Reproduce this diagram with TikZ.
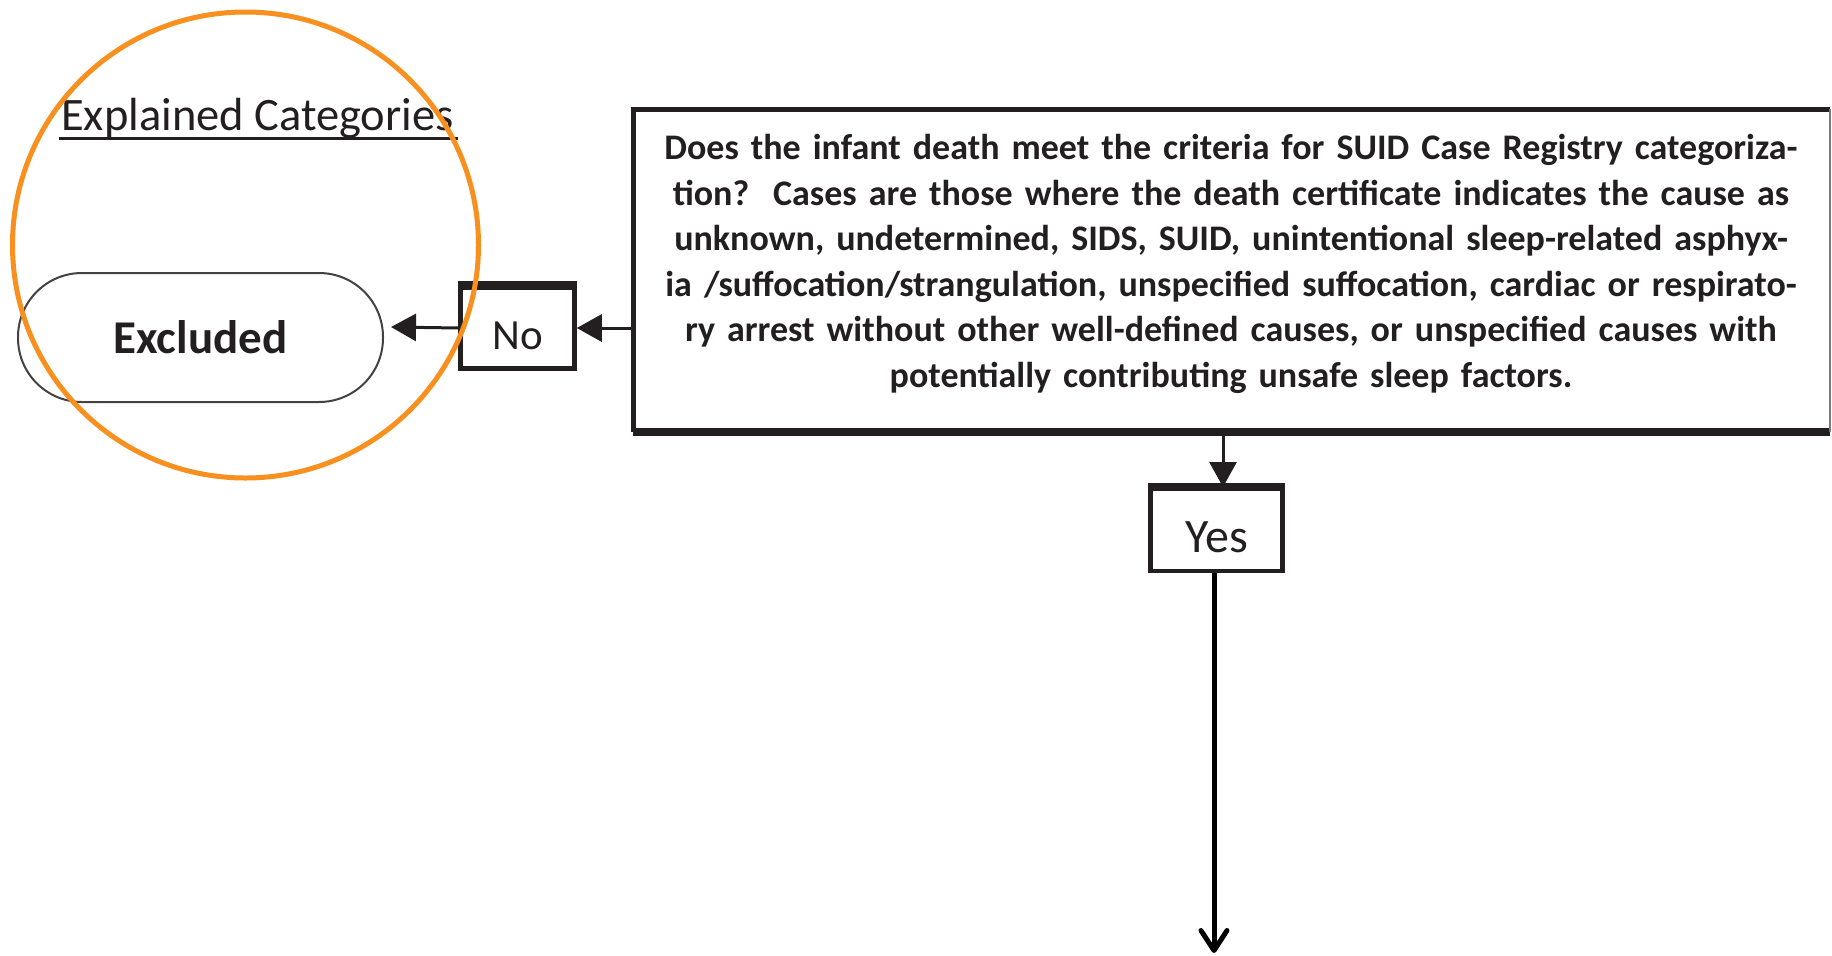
\documentclass[tikz,border=0pt]{standalone}
\usepackage{fontspec}
\setmainfont{Carlito}
\usetikzlibrary{arrows.meta}
\definecolor{ink}{HTML}{231F20}
\definecolor{hl}{HTML}{F7901E}
\begin{document}
\begin{tikzpicture}[x=1pt,y=-1pt,
  flow/.style={draw=ink, line width=3pt, -{Triangle[length=25pt,width=27pt]}},
  answer/.style={draw=ink, line width=4.5pt, inner sep=0pt, text=ink, text depth=0pt},
  topedge/.style={draw=ink, line width=8pt},
  terminal/.style={draw=ink!85, line width=2pt, rounded corners=64pt, inner sep=0pt,
    minimum width=365pt, minimum height=129pt, text=ink,
    font=\fontsize{47}{50}\selectfont\bfseries},
  question/.style={text width=1250pt, align=center, inner sep=0pt, text=ink,
    font=\fontsize{36}{45.6}\selectfont\bfseries},
  highlight/.style={draw=hl, line width=5pt, circle, inner sep=0pt, minimum size=466pt}]
\useasboundingbox (0,0) rectangle (1832,956);

% Explained categories title with underline
\node[anchor=base west, inner sep=0pt, text=ink, font=\fontsize{46.5}{50}\selectfont] (title) at (61,130) {Explained Categories};
\coordinate (ul1) at (59,138.5);
\coordinate (ul2) at (458,138.5);
\draw[ink, line width=3pt] (ul1) -- (ul2);

% Excluded terminal
\node[terminal] (excl) at (200.5,337.5) {Excluded};

% No box
\node[answer, minimum width=114pt, minimum height=81pt, text height=42pt,
  font=\fontsize{43}{50}\selectfont] (no) at (517.5,328) {No};
\draw[topedge] (no.north west) -- (no.north east);

% Main question box
\coordinate (mnw) at (633,109);
\coordinate (mne) at (1830,109);
\coordinate (msw) at (633,432);
\coordinate (mse) at (1830,432);
\draw[ink, line width=5pt] (mne) -- (mnw) -- (msw);
\draw[ink, line width=8pt] (msw) -- (mse);
\draw[ink!60, line width=1.5pt] (mne) -- (mse);
\node[question] (q) at (1231,264) {Does the infant death meet the criteria for SUID Case Registry categoriza-\\
tion?\ \ Cases are those where the death certificate indicates the cause as\\
unknown, undetermined, SIDS, SUID, unintentional sleep-related asphyx-\\
ia /suffocation/strangulation, unspecified suffocation, cardiac or respirato-\\
ry arrest without other well-defined causes, or unspecified causes with\\
potentially contributing unsafe sleep factors.};

% Yes box
\node[answer, minimum width=132pt, minimum height=82pt, text height=44pt,
  font=\fontsize{48}{50}\selectfont] (yes) at (1216.5,530) {Yes};
\draw[topedge] (yes.north west) -- (yes.north east);

% connectors
\coordinate (noin) at (msw |- no.east);
\draw[flow] (noin) -- (no.east);
\coordinate (exin) at (391,327);
\draw[flow] (no.west) -- (exin);
\coordinate (ya) at (1223,432);
\coordinate (yb) at (1223,487);
\draw[flow] (ya) -- (yb);
\coordinate (ys) at (1214,573);
\coordinate (yend) at (1214,953);
\draw[black, line width=5pt, -{Straight Barb[length=20pt,width=26pt,line width=5pt,round]}] (ys) -- (yend);

% highlight circle
\node[highlight] (ring) at (245.5,245) {};
\end{tikzpicture}
\end{document}
